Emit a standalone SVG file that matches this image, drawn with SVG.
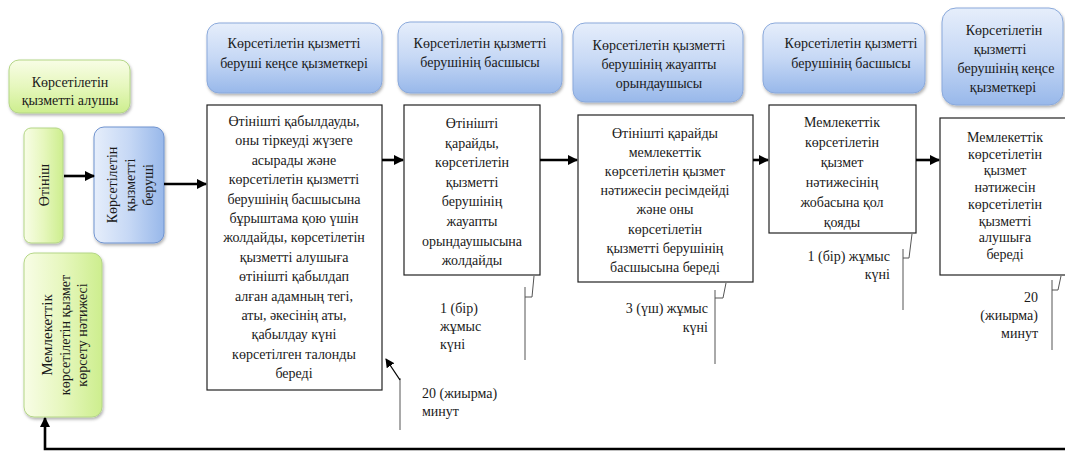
<svg xmlns="http://www.w3.org/2000/svg" width="1065" height="452" viewBox="0 0 1065 452" font-family="'Liberation Serif', 'Times New Roman', serif">
<defs>
  <linearGradient id="gBlue" x1="0" y1="0" x2="0" y2="1">
    <stop offset="0" stop-color="#e6eefb"/>
    <stop offset="0.5" stop-color="#c6d8f5"/>
    <stop offset="1" stop-color="#98b8ea"/>
  </linearGradient>
  <linearGradient id="gBlueV" x1="0" y1="0" x2="1" y2="0">
    <stop offset="0" stop-color="#e6eefb"/>
    <stop offset="0.5" stop-color="#c6d8f5"/>
    <stop offset="1" stop-color="#98b8ea"/>
  </linearGradient>
  <linearGradient id="gGreen" x1="0" y1="0" x2="0" y2="1">
    <stop offset="0" stop-color="#f8fde6"/>
    <stop offset="0.5" stop-color="#e6f7bd"/>
    <stop offset="1" stop-color="#cdee8e"/>
  </linearGradient>
  <linearGradient id="gGreenV" x1="0" y1="0" x2="1" y2="0">
    <stop offset="0" stop-color="#f8fde6"/>
    <stop offset="0.5" stop-color="#e6f7bd"/>
    <stop offset="1" stop-color="#cdee8e"/>
  </linearGradient>
  <filter id="sh" x="-10%" y="-10%" width="130%" height="130%">
    <feDropShadow dx="1" dy="2" stdDeviation="1.5" flood-color="#000" flood-opacity="0.3"/>
  </filter>
  <marker id="ah" viewBox="0 0 10 10" refX="9" refY="5" markerWidth="4" markerHeight="4" orient="auto" markerUnits="strokeWidth">
    <path d="M0,0 L10,5 L0,10 z" fill="#000"/>
  </marker>
  <marker id="ahs" viewBox="0 0 10 10" refX="9" refY="5" markerWidth="9" markerHeight="9" orient="auto" markerUnits="userSpaceOnUse">
    <path d="M0,0 L10,5 L0,10 z" fill="#000"/>
  </marker>
  <style>
    text { font-family: "Liberation Serif", "Times New Roman", serif; font-size: 14px; fill: #1a1a1a; }
    .c { text-anchor: middle; }
    .r { text-anchor: end; }
    .hb { fill: url(#gBlue); stroke: #8aa9db; stroke-width: 1; filter: url(#sh); }
    .hbv { fill: url(#gBlueV); stroke: #6f93cf; stroke-width: 1; filter: url(#sh); }
    .hg { fill: url(#gGreen); stroke: #b4d686; stroke-width: 1; filter: url(#sh); }
    .hgv { fill: url(#gGreenV); stroke: #b4d686; stroke-width: 1; filter: url(#sh); }
    .body { fill: #fff; stroke: #222; stroke-width: 1.2; }
    .arr { stroke: #000; stroke-width: 2.6; fill: none; marker-end: url(#ah); }
    .cl { stroke: #555; stroke-width: 1; fill: none; }
  </style>
</defs>

<!-- Left column -->
<g id="receiver">
  <rect class="hg" x="9" y="60" width="121" height="53" rx="10"/>
  <text class="c" x="70" y="87">Көрсетілетін</text>
  <text class="c" x="70" y="105">қызметті алушы</text>
</g>
<g id="application">
  <rect class="hgv" x="24" y="128" width="39" height="115" rx="7"/>
  <text class="c" transform="translate(49,185) rotate(-90)">Өтініш</text>
</g>
<g id="provider">
  <rect class="hbv" x="94" y="127" width="70" height="116" rx="10"/>
  <text class="c" transform="translate(117,185) rotate(-90)">Көрсетілетін</text>
  <text class="c" transform="translate(135,185) rotate(-90)">қызметті</text>
  <text class="c" transform="translate(153,185) rotate(-90)">беруші</text>
</g>
<g id="result">
  <rect class="hgv" x="24" y="253" width="78" height="164" rx="10"/>
  <text class="c" transform="translate(52,335) rotate(-90)" style="font-size:15px">Мемлекеттік</text>
  <text class="c" transform="translate(70,335) rotate(-90)">көрсетілетін қызмет</text>
  <text class="c" transform="translate(87,335) rotate(-90)">көрсету нәтижесі</text>
</g>

<!-- Step 1 -->
<g id="step1">
  <rect class="hb" x="207" y="23" width="175" height="70" rx="12"/>
  <text class="c" x="294" y="48">Көрсетілетін қызметті</text>
  <text class="c" x="294" y="68">беруші кеңсе қызметкері</text>
  <rect class="body" x="207" y="105" width="175" height="285"/>
  <text class="c" x="294" y="126">Өтінішті  қабылдауды,</text>
  <text class="c" x="294" y="145.4">оны тіркеуді жүзеге</text>
  <text class="c" x="294" y="164.8">асырады және</text>
  <text class="c" x="294" y="184.2">көрсетілетін қызметті</text>
  <text class="c" x="294" y="203.6">берушінің басшысына</text>
  <text class="c" x="294" y="223">бұрыштама қою үшін</text>
  <text class="c" x="294" y="242.4">жолдайды, көрсетілетін</text>
  <text class="c" x="294" y="261.8">қызметті  алушыға</text>
  <text class="c" x="294" y="281.2">өтінішті қабылдап</text>
  <text class="c" x="294" y="300.6">алған адамның тегі,</text>
  <text class="c" x="294" y="320">аты, әкесінің  аты,</text>
  <text class="c" x="294" y="339.4">қабылдау күні</text>
  <text class="c" x="294" y="358.8">көрсетілген талонды</text>
  <text class="c" x="294" y="378.2">береді</text>
</g>
<g id="time1">
  <path class="cl" d="M400,430 V378"/>
  <path d="M400,380 L386,359" stroke="#000" stroke-width="1.3" fill="none" marker-end="url(#ahs)"/>
  <text x="422" y="398">20  (жиырма)</text>
  <text x="422" y="416">минут</text>
</g>

<!-- Step 2 -->
<g id="step2">
  <rect class="hb" x="398" y="22" width="164" height="71" rx="12"/>
  <text class="c" x="480" y="48">Көрсетілетін қызметті</text>
  <text class="c" x="480" y="67">берушінің басшысы</text>
  <rect class="body" x="404" y="105" width="136" height="170"/>
  <text class="c" x="472" y="128">Өтінішті</text>
  <text class="c" x="472" y="147.6">қарайды,</text>
  <text class="c" x="472" y="167.2">көрсетілетін</text>
  <text class="c" x="472" y="186.8">қызметті</text>
  <text class="c" x="472" y="206.4">берушінің</text>
  <text class="c" x="472" y="226">жауапты</text>
  <text class="c" x="472" y="245.6">орындаушысына</text>
  <text class="c" x="472" y="265.2">жолдайды</text>
</g>
<g id="time2">
  <path class="cl" d="M525,287 V360 M525,297 H532 L534,276"/>
  <text x="440" y="313">1 (бір)</text>
  <text x="440" y="331">жұмыс</text>
  <text x="440" y="349">күні</text>
</g>

<!-- Step 3 -->
<g id="step3">
  <rect class="hb" x="573" y="23" width="170" height="79" rx="12"/>
  <text class="c" x="659" y="50">Көрсетілетін қызметті</text>
  <text class="c" x="659" y="69">берушінің жауапты</text>
  <text class="c" x="659" y="88">орындаушысы</text>
  <rect class="body" x="578" y="115" width="175" height="167"/>
  <text class="c" x="665" y="138">Өтінішті  қарайды</text>
  <text class="c" x="665" y="157.1">мемлекеттік</text>
  <text class="c" x="665" y="176.2">көрсетілетін қызмет</text>
  <text class="c" x="665" y="195.3">нәтижесін ресімдейді</text>
  <text class="c" x="665" y="214.4">және  оны</text>
  <text class="c" x="665" y="233.5">көрсетілетін</text>
  <text class="c" x="665" y="252.6">қызметті берушінің</text>
  <text class="c" x="665" y="271.7">басшысына береді</text>
</g>
<g id="time3">
  <path class="cl" d="M715,290 V364 M715,298 H723 L726,283"/>
  <text class="r" x="708" y="313">3 (үш) жұмыс</text>
  <text class="r" x="708" y="332">күні</text>
</g>

<!-- Step 4 -->
<g id="step4">
  <rect class="hb" x="763" y="23" width="162" height="70" rx="12"/>
  <text class="c" x="851" y="48">Көрсетілетін қызметті</text>
  <text class="c" x="851" y="68">берушінің басшысы</text>
  <rect class="body" x="769" y="105" width="147" height="128"/>
  <text class="c" x="842" y="127">Мемлекеттік</text>
  <text class="c" x="842" y="147">көрсетілетін</text>
  <text class="c" x="842" y="167">қызмет</text>
  <text class="c" x="842" y="187">нәтижесінің</text>
  <text class="c" x="842" y="207">жобасына қол</text>
  <text class="c" x="842" y="227">қояды</text>
</g>
<g id="time4">
  <path class="cl" d="M903,249 V310 M903,258 H909 L912,234"/>
  <text class="r" x="890" y="261">1 (бір) жұмыс</text>
  <text class="r" x="890" y="279">күні</text>
</g>

<!-- Step 5 -->
<g id="step5">
  <rect class="hb" x="942" y="8" width="121" height="97" rx="14"/>
  <text class="c" x="1004" y="35">Көрсетілетін</text>
  <text class="c" x="1000" y="54">қызметті</text>
  <text class="c" x="1006" y="73">берушінің кеңсе</text>
  <text class="c" x="1003" y="92">қызметкері</text>
  <rect class="body" x="940" y="118" width="126" height="157"/>
  <text class="c" x="1005" y="142">Мемлекеттік</text>
  <text class="c" x="1005" y="158.7">көрсетілетін</text>
  <text class="c" x="1005" y="175.4">қызмет</text>
  <text class="c" x="1005" y="192.1">нәтижесін</text>
  <text class="c" x="1005" y="208.8">көрсетілетін</text>
  <text class="c" x="1005" y="225.5">қызметті</text>
  <text class="c" x="1005" y="242.2">алушыға</text>
  <text class="c" x="1005" y="258.9">береді</text>
</g>
<g id="time5">
  <path class="cl" d="M1052,280 V350 M1052,290 H1058 L1061,276"/>
  <text class="r" x="1038" y="302">20</text>
  <text class="r" x="1038" y="320">(жиырма)</text>
  <text class="r" x="1038" y="338">минут</text>
</g>

<!-- Connectors -->
<g id="connectors">
  <line class="arr" x1="64" y1="176" x2="94" y2="176"/>
  <line class="arr" x1="164" y1="184" x2="206" y2="184"/>
  <line class="arr" x1="382" y1="160" x2="403" y2="160"/>
  <line class="arr" x1="540" y1="160" x2="577" y2="160"/>
  <line class="arr" x1="753" y1="160" x2="768" y2="160"/>
  <line class="arr" x1="916" y1="160" x2="939" y2="160"/>
  <polyline class="arr" points="1066,449 45,449 45,418"/>
</g>
</svg>
